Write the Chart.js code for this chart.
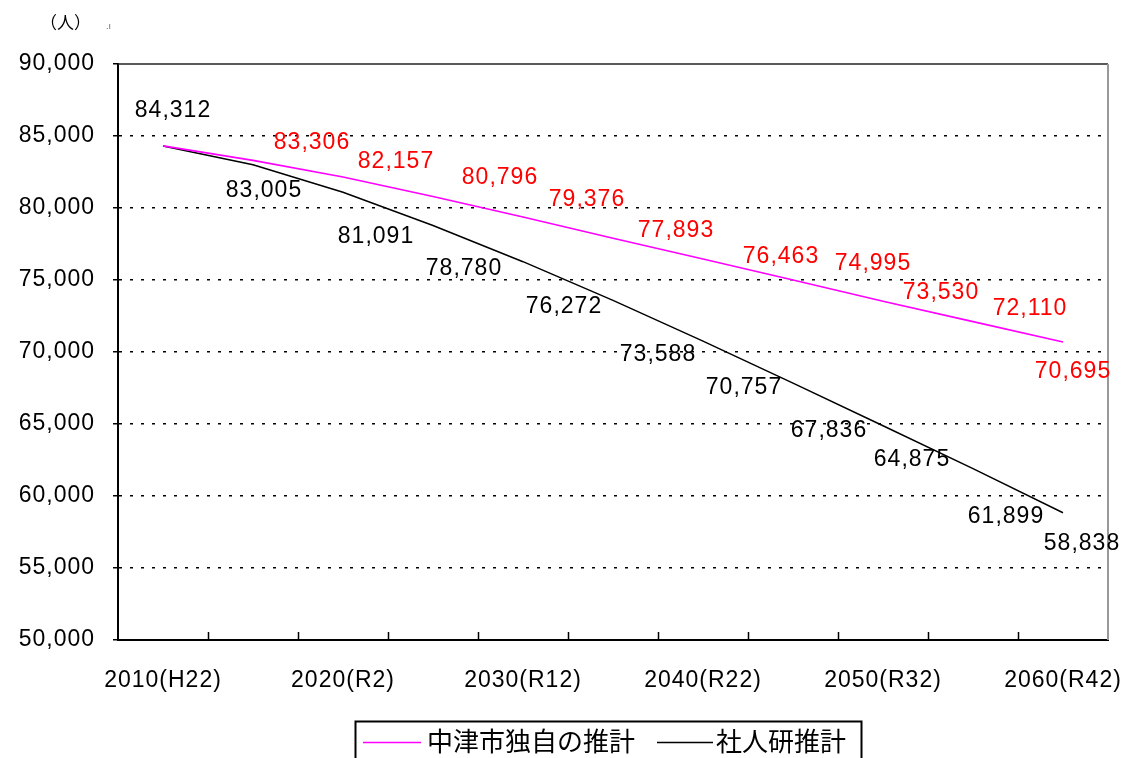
<!DOCTYPE html>
<html>
<head>
<meta charset="utf-8">
<script src="https://cdn.jsdelivr.net/npm/chart.js@4"></script>
<style>
  body { margin: 0; background: #fff; }
  #wrap { width: 1126px; height: 758px; }
</style>
</head>
<body>
<div id="wrap"><canvas id="grafico" width="1126" height="758"></canvas></div>
<script>
// categorias (eje x)
const anios = ['2010(H22)', '2015(H27)', '2020(R2)', '2025(R7)', '2030(R12)', '2035(R17)',
  '2040(R22)', '2045(R27)', '2050(R32)', '2055(R37)', '2060(R42)'];
// series
const nakatsu = [84312, 83306, 82157, 80796, 79376, 77893, 76463, 74995, 73530, 72110, 70695];
const shajinken = [84312, 83005, 81091, 78780, 76272, 73588, 70757, 67836, 64875, 61899, 58838];
const nombres = ['中津市独自の推計', '社人研推計'];
// eje y
const yMin = 50000;
const yMax = 90000;
const yPaso = 5000;

// desplazamiento de las etiquetas de datos (solo estilo)
const offNegro = [[10, -35], [11, 26], [33, 44], [31, 43], [41, 45], [45, 54], [41, 47], [36, 47], [29, 34], [33, 48], [19, 31]];
const offRosa = [null, [59, -18], [53, -15], [67, -19], [64, -17], [63, -8], [78, -2], [80, -16], [58, -9], [57, -13], [10, 30]];

const fuenteNum = '23px "Liberation Sans", Arial, sans-serif';
const fmt = v => v.toLocaleString('en-US');

const extras = {
  id: 'extras',
  beforeDraw(chart) {
    chart.ctx.letterSpacing = '1px';
  },
  afterDraw(chart) {
    const ctx = chart.ctx;
    const a = chart.chartArea;
    const x = chart.scales.x;
    ctx.save();
    // borde superior y derecho
    ctx.lineWidth = 1.5;
    ctx.strokeStyle = '#222';
    ctx.beginPath();
    ctx.moveTo(a.left, a.top);
    ctx.lineTo(a.right, a.top);
    ctx.stroke();
    ctx.strokeStyle = '#999';
    ctx.lineWidth = 2;
    ctx.beginPath();
    ctx.moveTo(a.right, a.top);
    ctx.lineTo(a.right, a.bottom);
    ctx.stroke();
    // marcas del eje x hacia dentro
    ctx.strokeStyle = '#000';
    ctx.lineWidth = 1.5;
    for (let i = 1; i < anios.length; i++) {
      const px = Math.round((x.getPixelForTick(i - 1) + x.getPixelForTick(i)) / 2) + 0.5;
      ctx.beginPath();
      ctx.moveTo(px, a.bottom);
      ctx.lineTo(px, a.bottom - 8);
      ctx.stroke();
    }
    // etiquetas de datos
    ctx.font = fuenteNum;
    ctx.letterSpacing = '1px';
    ctx.textAlign = 'center';
    ctx.textBaseline = 'middle';
    const pintar = (idx, offs, color) => {
      const meta = chart.getDatasetMeta(idx);
      const datos = chart.data.datasets[idx].data;
      ctx.fillStyle = color;
      meta.data.forEach((p, i) => {
        if (!offs[i]) return;
        ctx.fillText(fmt(datos[i]), p.x + offs[i][0], p.y + offs[i][1]);
      });
    };
    pintar(0, offRosa, '#ff0000');
    pintar(1, offNegro, '#000000');
    // unidad
    ctx.letterSpacing = '0px';
    ctx.font = '17px "Noto Sans CJK JP"';
    ctx.textAlign = 'left';
    ctx.fillStyle = '#000';
    ctx.fillText('（人）', 40, 23);
    ctx.font = '9px "Liberation Sans"';
    ctx.fillStyle = '#666';
    ctx.fillText('.ı', 106, 27);
    // leyenda
    ctx.lineWidth = 2;
    ctx.strokeStyle = '#000';
    ctx.strokeRect(355.5, 721.5, 506, 50);
    ctx.lineWidth = 1.5;
    ctx.strokeStyle = '#ff00ff';
    ctx.beginPath();
    ctx.moveTo(363, 742.5);
    ctx.lineTo(421, 742.5);
    ctx.stroke();
    ctx.strokeStyle = '#000';
    ctx.beginPath();
    ctx.moveTo(657, 742.5);
    ctx.lineTo(713, 742.5);
    ctx.stroke();
    ctx.font = '26px "Noto Sans CJK JP"';
    ctx.fillStyle = '#000';
    ctx.textBaseline = 'middle';
    ctx.fillText(nombres[0], 427, 741);
    ctx.fillText(nombres[1], 716, 741);
    ctx.restore();
  }
};

const ctx = document.getElementById('grafico').getContext('2d');
window.grafico = new Chart(ctx, {
  type: 'line',
  data: {
    labels: anios,
    datasets: [{
      label: nombres[0],
      data: nakatsu,
      borderColor: '#ff00ff',
      borderWidth: 1.6,
      pointRadius: 0,
      tension: 0
    }, {
      label: nombres[1],
      data: shajinken,
      borderColor: '#000000',
      borderWidth: 1.5,
      pointRadius: 0,
      tension: 0
    }]
  },
  options: {
    responsive: false,
    animation: false,
    devicePixelRatio: 1,
    layout: { padding: { left: 0, top: 64, right: 18, bottom: 0 } },
    plugins: { legend: { display: false }, tooltip: { enabled: false } },
    scales: {
      x: {
        offset: true,
        grid: { display: false, drawTicks: false },
        border: { display: true, color: '#000', width: 2 },
        ticks: {
          autoSkip: false,
          maxRotation: 0,
          padding: 27,
          color: '#000',
          font: { family: '"Liberation Sans", Arial, sans-serif', size: 23 },
          callback: (v, i) => i % 2 === 0 ? anios[i] : ''
        },
        afterFit: s => { s.height = 118; s.paddingLeft = 0; s.paddingRight = 0; }
      },
      y: {
        min: yMin,
        max: yMax,
        grid: {
          color: c => (c.tick && (c.tick.value === yMax || c.tick.value === yMin)) ? 'rgba(0,0,0,0)' : '#000',
          lineWidth: 1.5,
          tickLength: 5,
          tickColor: '#000',
          tickWidth: 1.5,
          tickBorderDash: []
        },
        border: { display: true, color: '#000', width: 2, dash: [3, 8] },
        ticks: {
          stepSize: yPaso,
          padding: 18,
          color: '#000',
          font: { family: '"Liberation Sans", Arial, sans-serif', size: 23 },
          callback: v => fmt(v)
        },
        afterFit: s => { s.width = 118; s.paddingTop = 0; s.paddingBottom = 0; }
      }
    }
  },
  plugins: [extras]
});
</script>
</body>
</html>
